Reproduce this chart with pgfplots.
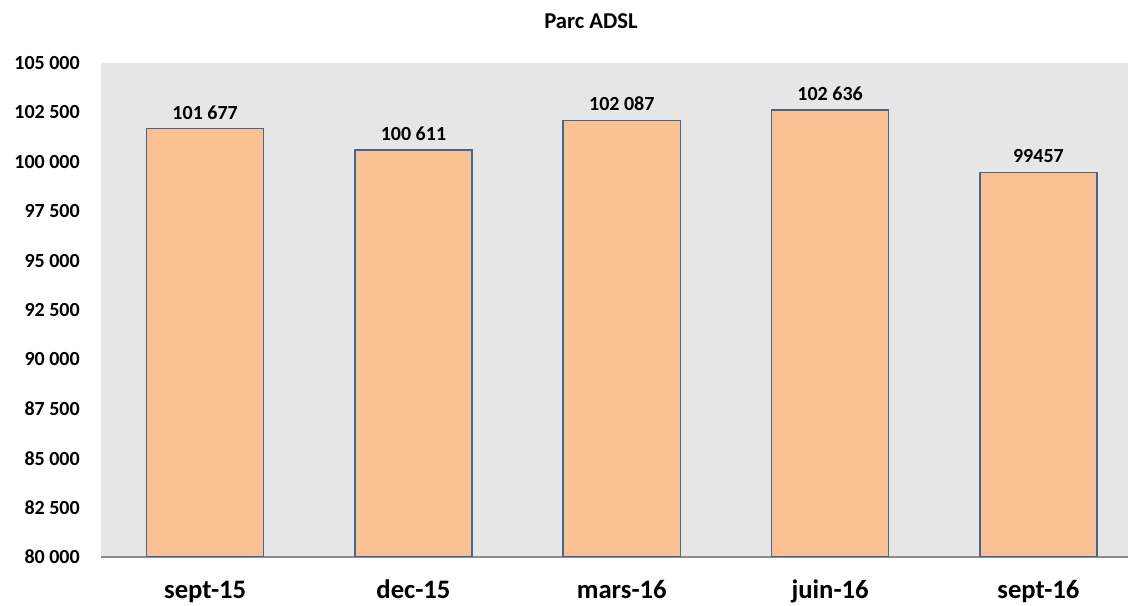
\documentclass[border=0pt]{standalone}
\usepackage{pgfplots}
\pgfplotsset{compat=1.18}
\usepackage{fontspec}
\setmainfont{Carlito}
\definecolor{barfill}{RGB}{249,192,145}
\definecolor{barline}{RGB}{65,103,152}
\definecolor{bgray}{RGB}{230,230,230}
\definecolor{axgray}{RGB}{140,140,140}
\begin{document}
\begin{tikzpicture}
\begin{axis}[
  at={(0pt,0pt)}, anchor=south west,
  scale only axis,
  width=770.25pt, height=370.5pt,
  xmin=-0.5, xmax=4.43,
  ymin=80000, ymax=105000,
  ybar, bar width=0.5617,
  clip mode=individual,
  axis background/.style={fill=bgray},
  axis x line*=bottom, axis y line*=left,
  x axis line style={draw=axgray, line width=1.5pt},
  y axis line style={draw=none},
  major tick length=0pt,
  xtick={0,1,2,3,4},
  xticklabels={sept-15, dec-15, mars-16, juin-16, sept-16},
  xticklabel style={font=\fontsize{20}{20}\selectfont\bfseries, anchor=base, inner sep=0pt, yshift=-31.5pt},
  ytick={80000,82500,85000,87500,90000,92500,95000,97500,100000,102500,105000},
  yticklabels={80 000,82 500,85 000,87 500,90 000,92 500,95 000,97 500,100 000,102 500,105 000},
  scaled y ticks=false,
  yticklabel style={font=\fontsize{15}{15}\selectfont\bfseries, anchor=east, inner sep=0pt, xshift=-15.75pt},
  nodes near coords={\pgfplotspointmeta},
  point meta=explicit symbolic,
  every node near coord/.append style={font=\fontsize{15}{15}\selectfont\bfseries, anchor=south, inner sep=0pt, yshift=6.5pt},
]
\addplot[fill=barfill, draw=barline, line width=1.2pt] coordinates {
  (0,101677) [101 677]
  (1,100611) [100 611]
  (2,102087) [102 087]
  (3,102636) [102 636]
  (4,99457) [99457]
};
\end{axis}
\node[anchor=base, inner sep=0pt, font=\fontsize{17}{17}\selectfont\bfseries] at (367.5pt,396pt) {Parc ADSL};
\pgfresetboundingbox
\useasboundingbox (-75.75pt,-36.75pt) rectangle (770.25pt,417.75pt);
\end{tikzpicture}
\end{document}
